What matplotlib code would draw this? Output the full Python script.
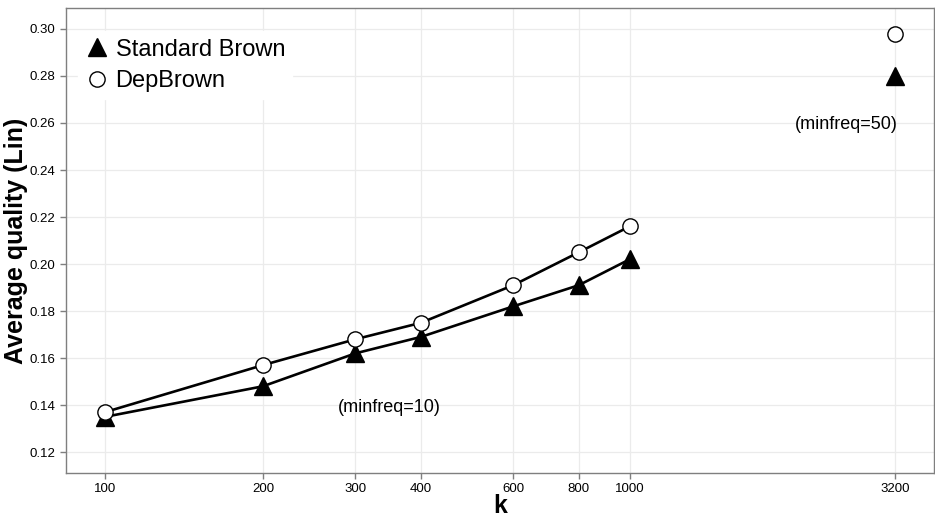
'''
Average quality (Lin) vs k for Standard Brown and DepBrown clustering
'''

import matplotlib
matplotlib.use('Agg')
import matplotlib.pyplot as plt
from matplotlib.ticker import FixedLocator, NullLocator

plt.rcParams['font.family'] = ['Liberation Sans', 'DejaVu Sans']

# data
k_values = [100, 200, 300, 400, 600, 800, 1000]
standard_brown = [0.135, 0.148, 0.162, 0.169, 0.182, 0.191, 0.202]
dep_brown = [0.137, 0.157, 0.168, 0.175, 0.191, 0.205, 0.216]

k_big = [3200]
standard_brown_big = [0.280]
dep_brown_big = [0.298]

x_ticks = [100, 200, 300, 400, 600, 800, 1000, 3200]
y_ticks = [0.12, 0.14, 0.16, 0.18, 0.20, 0.22, 0.24, 0.26, 0.28, 0.30]

fig = plt.figure(figsize=(9.35, 5.17), dpi=100)
ax = fig.add_axes([0.0706, 0.085, 0.928, 0.8995])

# lines + markers
ax.plot(k_values, standard_brown, color='black', lw=1.9, zorder=3)
ax.plot(k_values, dep_brown, color='black', lw=1.9, zorder=3)
ax.plot(k_values, standard_brown, ls='none', marker='^', ms=13,
        mfc='black', mec='black', zorder=4, label='Standard Brown')
ax.plot(k_values, dep_brown, ls='none', marker='o', ms=11,
        mfc='white', mec='black', mew=1.0, zorder=4, label='DepBrown')
ax.plot(k_big, standard_brown_big, ls='none', marker='^', ms=13,
        mfc='black', mec='black', zorder=4)
ax.plot(k_big, dep_brown_big, ls='none', marker='o', ms=11,
        mfc='white', mec='black', mew=1.0, zorder=4)

ax.text(349, 0.139, '(minfreq=10)', ha='center', va='center', fontsize=13)
ax.text(2588, 0.2595, '(minfreq=50)', ha='center', va='center', fontsize=13)

ax.set_xscale('log')
ax.set_xlim(84.3, 3797)
ax.set_ylim(0.1111, 0.3089)
ax.xaxis.set_major_locator(FixedLocator(x_ticks))
ax.xaxis.set_minor_locator(NullLocator())
ax.set_xticklabels([str(v) for v in x_ticks])
ax.set_yticks(y_ticks)
ax.set_yticklabels(['%.2f' % v for v in y_ticks])

ax.grid(True, color='#ebebeb', lw=0.9, zorder=0)
ax.set_axisbelow(True)
for sp in ax.spines.values():
    sp.set_color('#7f7f7f')
    sp.set_linewidth(1.0)
ax.tick_params(axis='both', colors='#7f7f7f', length=4, width=1.0,
               labelsize=9.5, labelcolor='black')

ax.set_xlabel('k', fontsize=18, fontweight='bold', labelpad=-1)
ax.set_ylabel('Average quality (Lin)', fontsize=18, fontweight='bold',
              labelpad=1)

leg = ax.legend(loc='upper left', bbox_to_anchor=(0.0, 0.975), fontsize=17,
                frameon=True, fancybox=False, handlelength=1.0,
                handletextpad=0.3, borderpad=0.3, labelspacing=0.4,
                borderaxespad=0.5)
leg.get_frame().set_edgecolor('white')
leg.get_frame().set_facecolor('white')
leg.get_frame().set_alpha(1.0)

fig.savefig('out.png', dpi=100)
